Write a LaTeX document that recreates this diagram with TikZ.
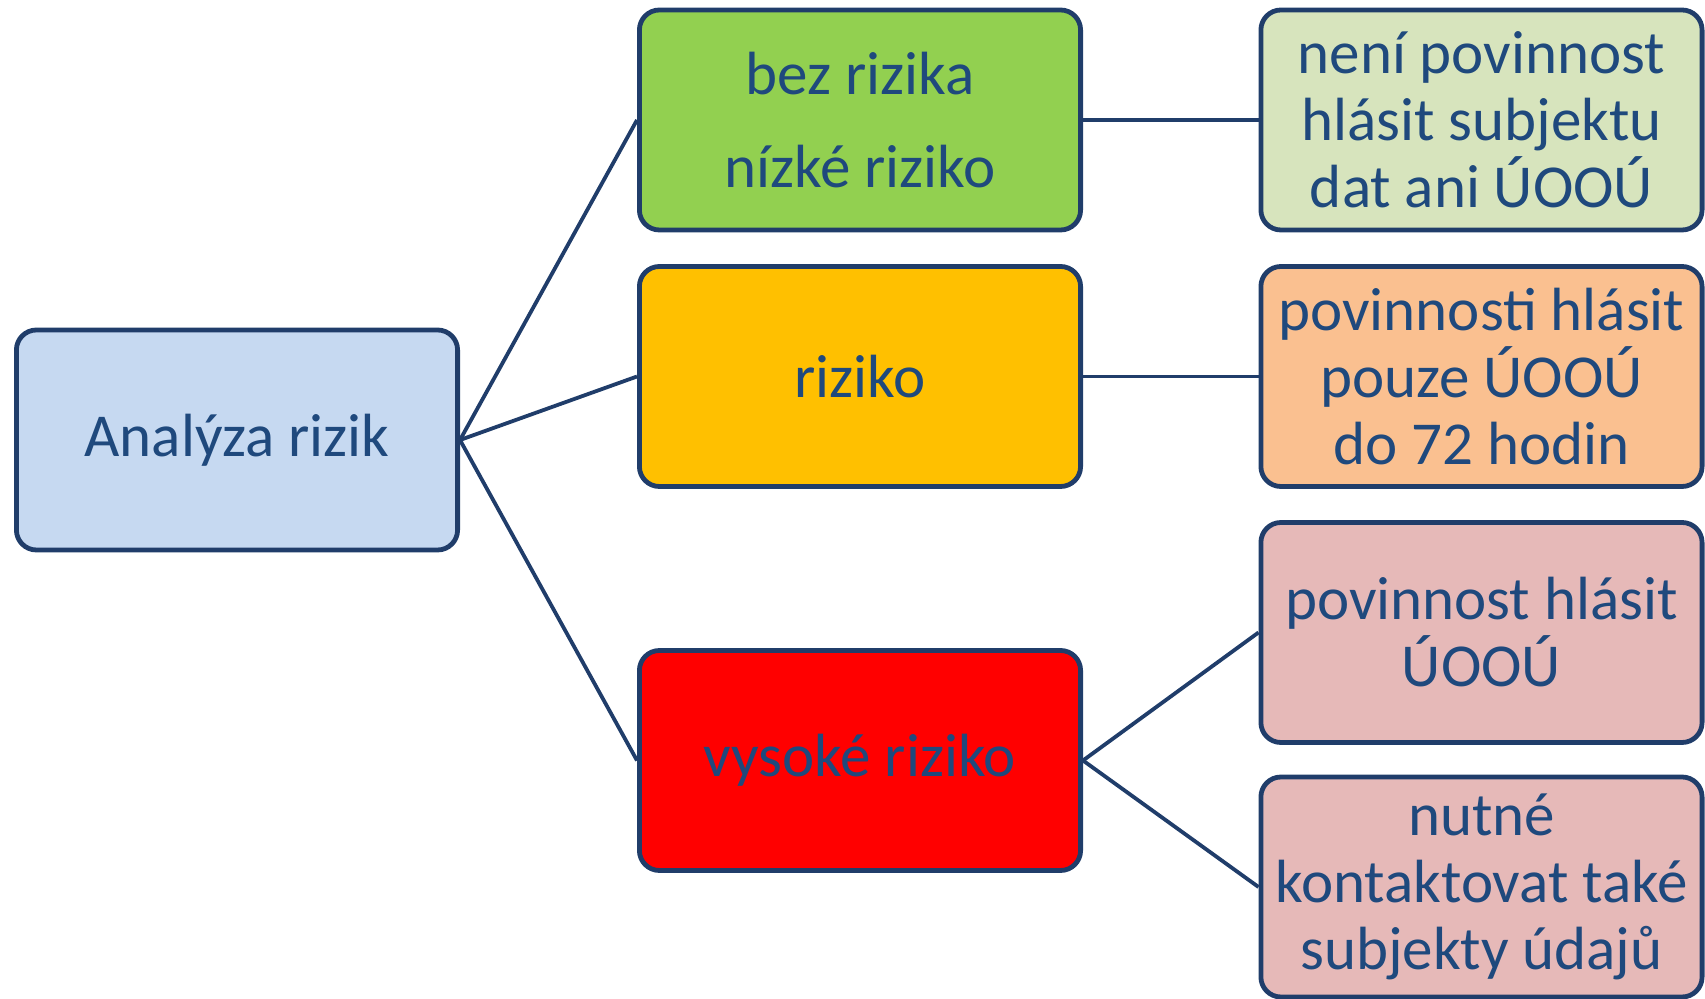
\documentclass[tikz,border=0pt]{standalone}
\usepackage{fontspec}
\setmainfont{Carlito}
\usepackage{tikz}
\usetikzlibrary{calc}
\definecolor{boxline}{HTML}{203D6A}
\definecolor{boxtext}{HTML}{1F497D}
\definecolor{fillana}{HTML}{C6D9F1}
\definecolor{fillbez}{HTML}{92D050}
\definecolor{fillriz}{HTML}{FFC000}
\definecolor{fillvys}{HTML}{FF0000}
\definecolor{fillneni}{HTML}{D7E4BD}
\definecolor{fillpouze}{HTML}{FAC090}
\definecolor{fillhlas}{HTML}{E6B9B8}
\tikzset{
	every node/.style={
		align=center,
	},
}
\tikzstyle{every box} = [draw=boxline, line width=2.4pt, rounded corners=10pt, inner sep=0pt, minimum width=220.6pt, minimum height=110pt, text=boxtext, font=\fontsize{30.5}{33.5}\selectfont]
\tikzstyle{every link} = [draw=boxline, line width=1.9pt]

\begin{document}
\begin{tikzpicture}[x=0.5pt, y=-0.5pt]
		\useasboundingbox (0,0) rectangle (1705,999);
		
		\node[every box, fill=fillana] (ana) at (237,440) {Analýza rizik};
		
		\node[every box, fill=fillbez] (bez) at (860,120) {bez rizika \\[13pt] nízké riziko};
		\node[every box, fill=fillriz] (riz) at (860,376.5) {riziko};
		\node[every box, fill=fillvys] (vys) at (860,760.5) {vysoké riziko};
		
		\node[every box, fill=fillneni] (neni) at (1481.5,120) {není povinnost \\ hlásit subjektu \\ dat ani ÚOOÚ};
		\node[every box, fill=fillpouze] (pouze) at (1481.5,376.5) {povinnosti hlásit \\ pouze ÚOOÚ \\ do 72 hodin};
		\node[every box, fill=fillhlas] (hlas) at (1481.5,632.5) {povinnost hlásit \\ ÚOOÚ};
		\node[every box, fill=fillhlas] (nutne) at (1481.5,887) {nutné \\ kontaktovat také \\ subjekty údajů};
		
		\draw[every link] (ana.east) -- (bez.west);
		\draw[every link] (ana.east) -- (riz.west);
		\draw[every link] (ana.east) -- (vys.west);
		
		\draw[every link] (bez.east) -- (neni.west);
		\draw[every link] (riz.east) -- (pouze.west);
		\draw[every link] (vys.east) -- (hlas.west);
		\draw[every link] (vys.east) -- (nutne.west);
		
	\end{tikzpicture}
\end{document}
